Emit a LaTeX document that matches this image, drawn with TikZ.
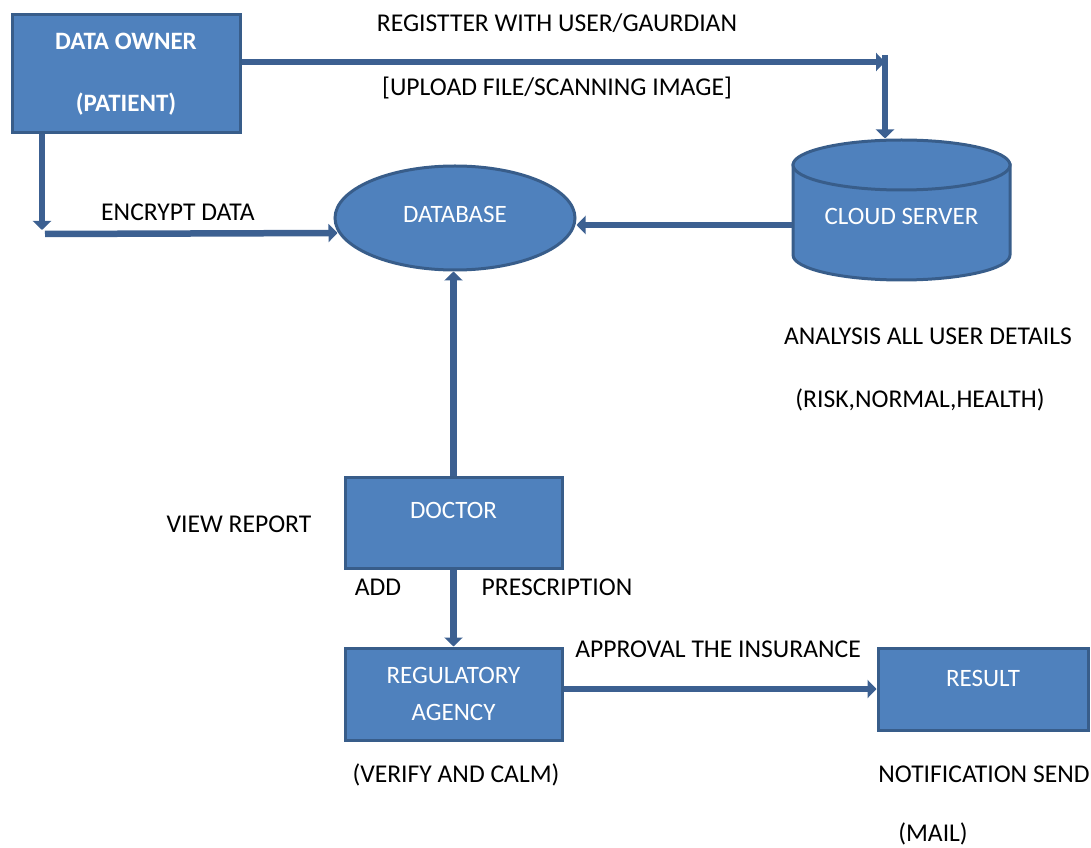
\documentclass[tikz,border=0pt]{standalone}
\usepackage{fontspec}
\setmainfont{Carlito}
\usetikzlibrary{arrows.meta,shapes.geometric,calc}
\definecolor{boxfill}{RGB}{79,129,189}
\definecolor{boxline}{RGB}{56,93,138}
\definecolor{arrc}{RGB}{60,96,145}
\tikzset{
  box/.style={draw=boxline, fill=boxfill, line width=3pt, text=white, align=center, font=\fontsize{25}{30}\selectfont, inner sep=0pt},
  lbl/.style={anchor=base, text=black, font=\fontsize{25.6}{30}\selectfont, inner sep=0pt},
  arr/.style={draw=arrc, line width=6.5pt, -{Triangle[length=9pt,width=18pt]}}
}
\begin{document}
\begin{tikzpicture}[x=1pt,y=1pt]
\useasboundingbox (0,0) rectangle (1091,847);
% cylinder (cloud server)
\filldraw[fill=boxfill, draw=boxline, line width=3pt]
  (793,682) -- (793,592) arc[start angle=180,end angle=360,x radius=108.5pt,y radius=25pt] -- (1010,682) -- cycle;
\filldraw[fill=boxfill, draw=boxline, line width=3pt] (901.5,682) ellipse[x radius=108.5pt,y radius=25pt];
\node[box, draw=none, fill=none, minimum width=217pt, minimum height=140pt, text height=30pt, text depth=0pt] (cloud) at (901.5,637) {CLOUD SERVER};

\node[box, font=\fontsize{25}{30}\selectfont\bfseries, minimum width=228pt, minimum height=118pt] (owner) at (126,773) {DATA OWNER\\[32pt](PATIENT)};
\node[box, ellipse, minimum width=240pt, minimum height=104pt, text depth=8pt] (db) at (455,629) {DATABASE};
\node[box, minimum width=217pt, minimum height=91pt, text depth=24pt] (doctor) at (453.5,324.5) {DOCTOR};
\node[box, minimum width=217pt, minimum height=92pt] (reg) at (453.5,153) {REGULATORY\\[7pt]AGENCY};
\node[box, minimum width=210pt, minimum height=82pt, text depth=22pt] (result) at (983,158) {RESULT};

\coordinate (c1) at (885,792);
\coordinate (c2) at (42,614);

\draw[arr] ([yshift=12pt]owner.east) -- ([yshift=-7pt]c1);
\draw[arr] (c1) -- (c1 |- cloud.north);
\draw[arr] ([xshift=-84pt]owner.south) -- ([yshift=3pt]c2);
\draw[arr] ([xshift=3pt,yshift=-1pt]c2) -- ([xshift=4pt]c2 -| db.west);
\draw[arr] ([yshift=-15pt]cloud.west) -- ([yshift=-15pt]cloud.west -| db.east);
\draw[arr] (doctor.north) -- (doctor.north |- db.south);
\draw[arr] (doctor.south) -- (reg.north);
\draw[arr] (reg.east |- result.west) -- (result.west);

\node[lbl] (l1) at (557,815) {REGISTTER WITH USER/GAURDIAN};
\node[lbl] (l2) at (557,751) {[UPLOAD FILE/SCANNING IMAGE]};
\node[lbl] (l3) at (178,626) {ENCRYPT DATA};
\node[lbl] (l4) at (928,502) {ANALYSIS ALL USER DETAILS};
\node[lbl] (l5) at (920,439) {(RISK,NORMAL,HEALTH)};
\node[lbl] (l6) at (239,315) {VIEW REPORT};
\node[lbl] (l7) at (378,252) {ADD};
\node[lbl] (l8) at (557,252) {PRESCRIPTION};
\node[lbl] (l9) at (718,190) {APPROVAL THE INSURANCE};
\node[lbl] (l10) at (456,65) {(VERIFY AND CALM)};
\node[lbl] (l11) at (984,65) {NOTIFICATION SEND};
\node[lbl] (l12) at (933,6) {(MAIL)};
\end{tikzpicture}
\end{document}
